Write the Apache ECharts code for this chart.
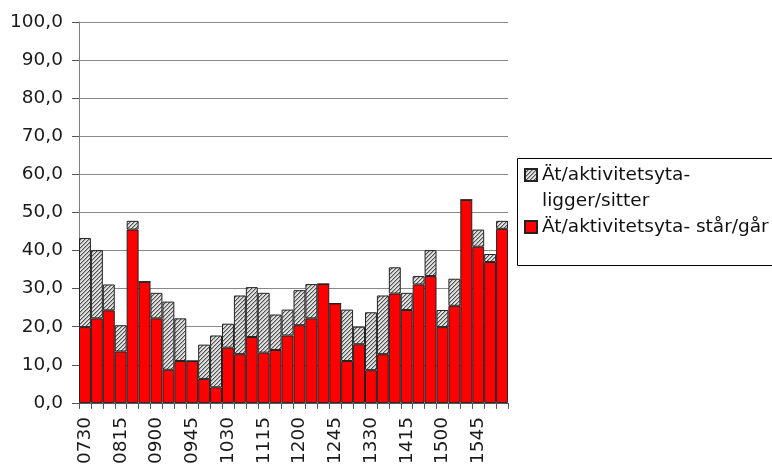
<!DOCTYPE html>
<html>
<head>
<meta charset="utf-8">
<script src="https://cdn.jsdelivr.net/npm/echarts@6/dist/echarts.min.js"></script>
<style>
html,body{margin:0;padding:0;background:#fff;}
#chart{width:772px;height:467px;}
</style>
</head>
<body>
<div id="chart"></div>
<script>
const categories = ['0730','0745','0800','0815','0830','0845','0900','0915','0930','0945','1000','1015',
  '1030','1045','1100','1115','1130','1145','1200','1215','1230','1245','1300','1315',
  '1330','1345','1400','1415','1430','1445','1500','1515','1530','1545','1600','1615'];
const standingWalking = [19.9,22.2,24.3,13.5,45.5,31.8,22.2,8.7,11.0,11.0,6.3,4.1,
  14.5,12.8,17.3,13.2,13.9,17.7,20.4,22.2,31.2,26.1,11.0,15.4,
  8.6,12.8,28.7,24.4,31.1,33.3,19.9,25.5,53.3,41.0,37.0,45.7];
const lyingSitting = [23.4,17.9,6.8,6.9,2.3,0,6.7,17.9,11.2,0,9.0,13.6,
  6.3,15.4,13.1,15.7,9.3,6.8,9.2,9.0,0,0,13.5,4.6,
  15.2,15.4,6.9,4.5,2.2,6.8,4.5,7.1,0,4.5,2.1,2.1];
const yTicks = [0,10,20,30,40,50,60,70,80,90,100];
const nameLying = 'Ät/aktivitetsyta- ligger/sitter';
const nameStanding = 'Ät/aktivitetsyta- står/går';

// hatch pattern
const pc = document.createElement('canvas');
pc.width = 4; pc.height = 4;
const pctx = pc.getContext('2d');
pctx.fillStyle = '#e0e0e0';
pctx.fillRect(0,0,4,4);
pctx.fillStyle = '#505050';
for (let i = 0; i < 4; i++) { pctx.fillRect(i, 3 - i, 1, 1); }
pctx.fillStyle = '#a8a8a8';
for (let i = 0; i < 4; i++) { pctx.fillRect((i + 1) % 4, 3 - i, 1, 1); }

const FONT = '"DejaVu Sans", sans-serif';
const chart = echarts.init(document.getElementById('chart'), null, {renderer: 'canvas'});
chart.setOption({
  animation: false,
  backgroundColor: '#fff',
  grid: {left: 79, right: 264, top: 22, bottom: 64, containLabel: false},
  xAxis: {
    type: 'category',
    data: categories,
    boundaryGap: true,
    axisLine: {lineStyle: {color: '#555', width: 1}},
    axisTick: {show: true, interval: 0, length: 6, lineStyle: {color: '#555'}},
    axisLabel: {interval: 2, rotate: 90, margin: 14, fontSize: 18.5, fontFamily: FONT, color: '#1a1a1a'},
    splitLine: {show: false}
  },
  yAxis: {
    type: 'value',
    min: yTicks[0], max: yTicks[yTicks.length - 1], interval: 10,
    axisLine: {show: true, lineStyle: {color: '#808080', width: 1}},
    axisTick: {show: true, length: 7, inside: false, lineStyle: {color: '#555'}},
    axisLabel: {margin: 16, fontSize: 18.5, fontFamily: FONT, color: '#1a1a1a',
      formatter: v => v.toFixed(1).replace('.', ',')},
    splitLine: {show: true, lineStyle: {color: '#888', width: 1}}
  },
  legend: {
    orient: 'vertical',
    left: 524, top: 136,
    padding: 0,
    itemWidth: 12, itemHeight: 12,
    itemGap: 0,
    icon: 'rect',
    data: [nameLying, nameStanding],
    selectedMode: false,
    textStyle: {fontSize: 18.5, fontFamily: FONT, color: '#111', lineHeight: 26},
    formatter: n => n === nameLying ? '\u00a0\nÄt/aktivitetsyta-\nligger/sitter' : n
  },
  graphic: [{
    type: 'rect', left: 517, top: 158, z: -1,
    shape: {width: 270, height: 107},
    style: {fill: '#fff', stroke: '#000', lineWidth: 1}
  }],
  series: [
    {
      name: nameStanding, type: 'bar', stack: 'a', data: standingWalking,
      barCategoryGap: '0%',
      itemStyle: {color: '#ff0000', borderColor: '#222', borderWidth: 1}
    },
    {
      name: nameLying, type: 'bar', stack: 'a', data: lyingSitting,
      barCategoryGap: '0%',
      itemStyle: {color: {image: pc, repeat: 'repeat'}, borderColor: '#222', borderWidth: 1}
    }
  ]
});
</script>
</body>
</html>
